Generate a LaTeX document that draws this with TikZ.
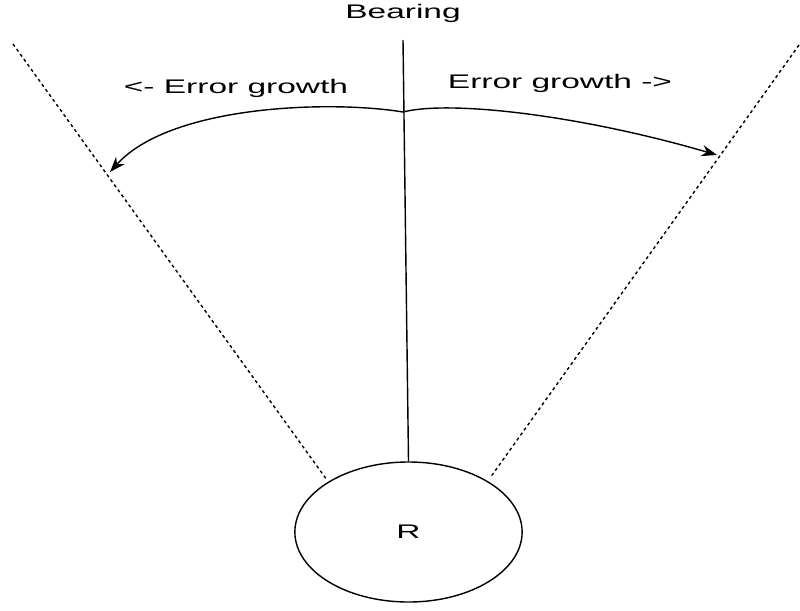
\documentclass[tikz,border=0pt]{standalone}
\usepackage{fontspec}
\setmainfont{Liberation Sans}
\usetikzlibrary{arrows.meta,shapes.geometric}
\begin{document}
\begin{tikzpicture}[x=0.025cm, y=-0.025cm, >={Stealth[length=11pt,width=8pt]},
  lbl/.style={font=\fontsize{14}{16}\selectfont, xscale=1.7, inner sep=0pt},
  rim/.style={dash pattern=on 2.2pt off 2.2pt, line width=1pt},
  errarr/.style={->, line width=1pt}]
\useasboundingbox (0,0) rectangle (800,610);
% the receiver
\node[ellipse, draw, line width=1pt, minimum width=5.68cm,
  minimum height=3.5cm, inner sep=0pt] (R) at (408.5,532) {};
\node[lbl] (Rl) at (R.center) {R};
% bearing line
\node[lbl, anchor=base] (brg) at (403,19) {Bearing};
\coordinate (top) at (403,40);
\draw[line width=1pt] (top) -- (R.north);
% limits of the sector
\coordinate (lt) at (13,44);
\coordinate (lb) at (327,480);
\coordinate (rt) at (799,45);
\coordinate (rb) at (490,478);
\draw[rim] (lt) -- (lb);
\draw[rim] (rt) -- (rb);
% error growth arrows
\coordinate (mid) at (403,112);
\coordinate (ltip) at (110,172);
\coordinate (rtip) at (717,155);
\draw[errarr] (mid) .. controls (330,100) and (170,105) .. (ltip);
\draw[errarr] (mid) .. controls (450,100) and (580,115) .. (rtip);
\node[lbl, anchor=base] (egl) at (236,94) {<- Error growth};
\node[lbl, anchor=base] (egr) at (560,89) {Error growth ->};
\end{tikzpicture}
\end{document}
